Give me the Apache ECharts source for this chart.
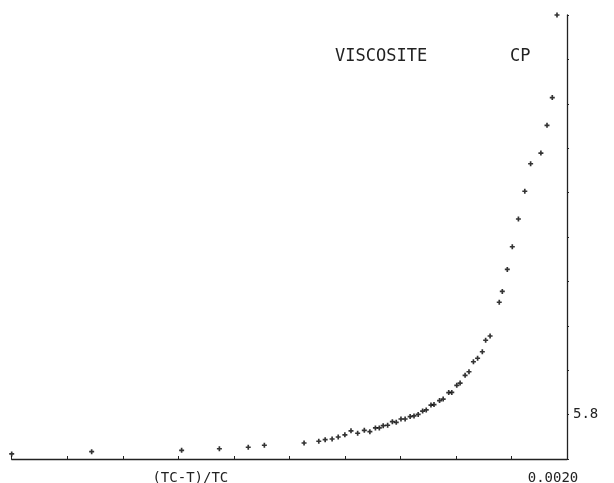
<!DOCTYPE html>
<html>
<head>
<meta charset="utf-8">
<script src="https://cdn.jsdelivr.net/npm/echarts@6/dist/echarts.min.js"></script>
<style>html,body{margin:0;padding:0;background:#fff}#c{width:614px;height:483px}</style>
</head>
<body>
<div id="c"></div>
<script>
// (TC-T)/TC values
const xValues = [0, 0.000288, 0.000612, 0.000748, 0.000852, 0.000910, 0.001053, 0.001106, 0.001129, 0.001154,
  0.001176, 0.001200, 0.001222, 0.001246, 0.001270, 0.001290, 0.001310, 0.001324, 0.001338, 0.001354,
  0.001371, 0.001385, 0.001402, 0.001417, 0.001435, 0.001449, 0.001464, 0.001480, 0.001493, 0.001510,
  0.001521, 0.001541, 0.001554, 0.001574, 0.001585, 0.001603, 0.001615, 0.001633, 0.001647, 0.001663,
  0.001678, 0.001695, 0.001707, 0.001723, 0.001756, 0.001767, 0.001785, 0.001803, 0.001825, 0.001848,
  0.001869, 0.001906, 0.001928, 0.001947, 0.001964];
// Viscosity (cP)
const viscosity = [5.623, 5.633, 5.639, 5.646, 5.653, 5.662, 5.672, 5.680, 5.687, 5.690,
  5.699, 5.709, 5.727, 5.716, 5.729, 5.723, 5.740, 5.740, 5.750, 5.752,
  5.768, 5.765, 5.780, 5.780, 5.791, 5.794, 5.801, 5.816, 5.821, 5.843,
  5.845, 5.863, 5.870, 5.899, 5.900, 5.932, 5.942, 5.977, 5.993, 6.038,
  6.054, 6.083, 6.135, 6.154, 6.306, 6.355, 6.454, 6.556, 6.681, 6.806,
  6.930, 6.978, 7.103, 7.228, 7.600];
const xTickLabel = '0.0020';
const yTickLabel = '5.8';
const titleWords = ['VISCOSITE', 'CP'];
const xAxisName = '(TC-T)/TC';

const points = xValues.map((x, i) => [x, viscosity[i]]);
const font = 'DejaVu Sans Mono';
const chart = echarts.init(document.getElementById('c'), null, {renderer: 'canvas'});
chart.setOption({
  animation: false,
  backgroundColor: '#ffffff',
  title: [
    {text: titleWords[0], left: 330, top: 43,
     textStyle: {fontFamily: font, fontSize: 17, fontWeight: 'normal', color: '#222'}},
    {text: titleWords[1], left: 505, top: 43,
     textStyle: {fontFamily: font, fontSize: 17, fontWeight: 'normal', color: '#222'}}
  ],
  grid: {left: 11.7, right: 47, top: 15, bottom: 24, containLabel: false, outerBoundsMode: 'none'},
  xAxis: {
    type: 'value', min: 0, max: 0.002, interval: 0.0002,
    name: xAxisName, nameLocation: 'middle', nameGap: 12, nameMoveOverlap: false,
    nameTextStyle: {fontFamily: font, fontSize: 14, color: '#222', padding: [0, 198, 0, 0]},
    axisLine: {onZero: false, lineStyle: {color: '#222', width: 1.3}},
    axisTick: {show: true, inside: true, length: 3, lineStyle: {color: '#222', width: 1}},
    axisLabel: {show: true, showMaxLabel: true, margin: 12, fontFamily: font, fontSize: 14, color: '#222',
      padding: [0, 28, 0, 0],
      formatter: v => Math.abs(v - 0.002) < 1e-9 ? xTickLabel : ''},
    splitLine: {show: false}
  },
  yAxis: {
    type: 'value', position: 'right', min: 5.6, max: 7.6, interval: 0.2,
    axisLine: {show: true, onZero: false, lineStyle: {color: '#222', width: 1.3}},
    axisTick: {show: true, inside: false, length: 2, lineStyle: {color: '#222', width: 1}},
    axisLabel: {show: true, margin: 6, fontFamily: font, fontSize: 14, color: '#222',
      formatter: v => Math.abs(v - 5.8) < 1e-6 ? yTickLabel : ''},
    splitLine: {show: false}
  },
  series: [{
    type: 'scatter',
    data: points,
    clip: false,
    symbol: 'path://M2,0H4V2H6V4H4V6H2V4H0V2H2Z',
    symbolSize: 5,
    itemStyle: {color: '#000'}
  }]
});
</script>
</body>
</html>
